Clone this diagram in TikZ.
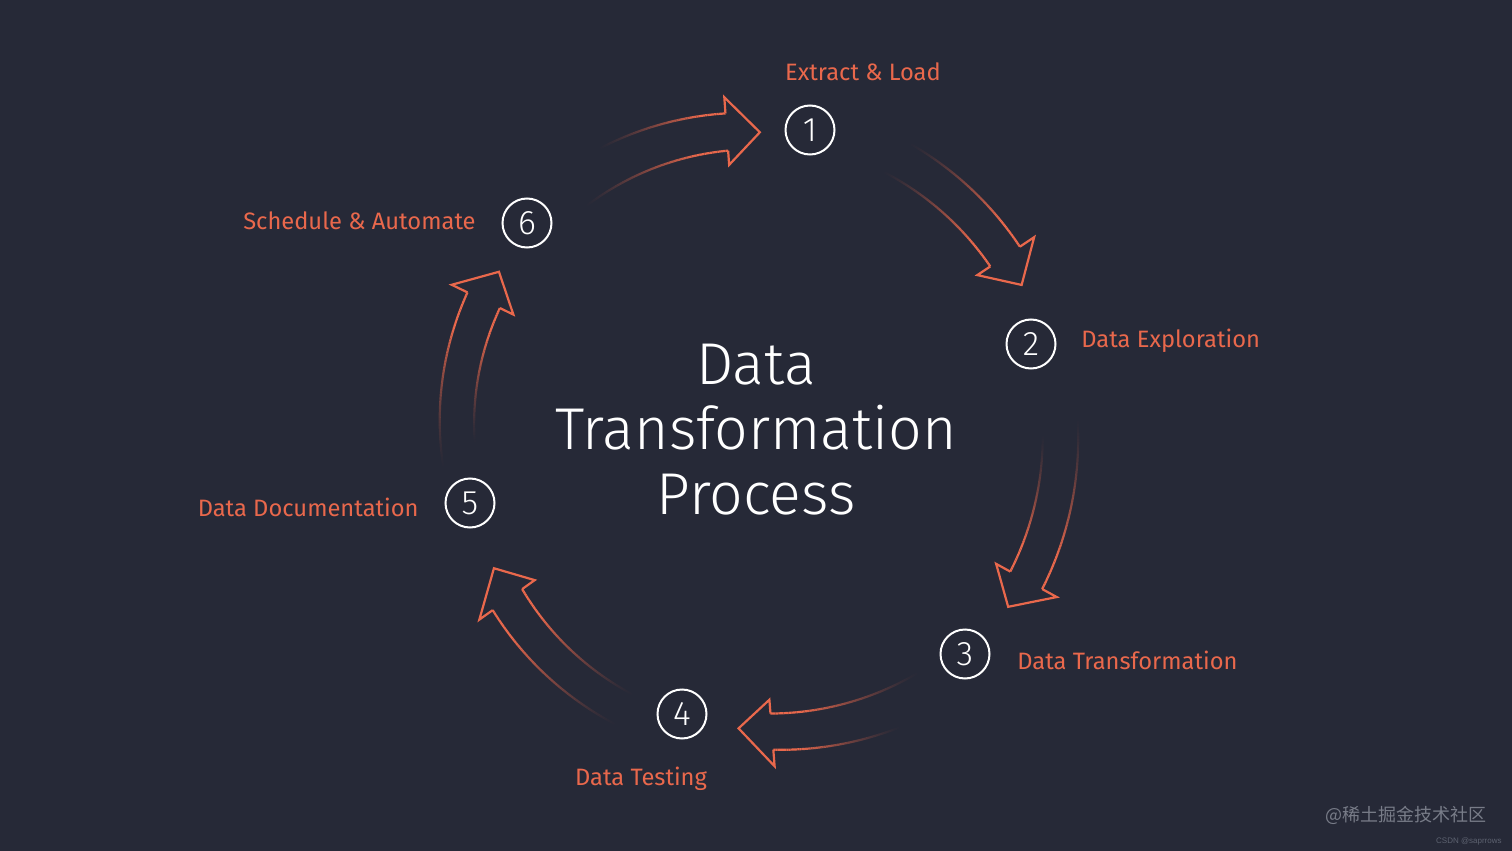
\documentclass[tikz,border=0pt]{standalone}
\usepackage{fontspec}
\setmainfont{Fira Sans}
\newfontfamily\lightfont{Fira Sans Light}
\newfontfamily\cjkfont{Noto Sans CJK SC}
\newfontfamily\wmfont{Liberation Sans}
\definecolor{bgcol}{RGB}{38,41,55}
\definecolor{accent}{RGB}{233,104,76}
\definecolor{wmgrey}{RGB}{120,124,136}
\tikzset{
  arrline/.style={draw=accent, line width=1.1pt},
  numcirc/.style={circle, draw=white, line width=1pt, minimum size=24.5pt, inner sep=0pt, text=white, font=\lightfont\fontsize{17}{17}\selectfont},
  steplabel/.style={text=accent, inner sep=0pt, font=\fontsize{11.85}{14}\selectfont},
}
% shaft line: #1 tail angle, #2 tail radius, #3 end angle, #4 end radius
\newcommand\shaftline[4]{%
  \foreach \i in {0,...,59}{%
    \pgfmathsetmacro\tA{\i/60}%
    \pgfmathsetmacro\tB{(\i+1)/60}%
    \pgfmathsetmacro\aA{#1+(#3-#1)*\tA}%
    \pgfmathsetmacro\aB{#1+(#3-#1)*\tB}%
    \pgfmathsetmacro\rA{#2+(#4-#2)*\tA}%
    \pgfmathsetmacro\rB{#2+(#4-#2)*\tB}%
    \pgfmathsetmacro\op{min(1,((\tA+\tB)/2/0.8))^1.5}%
    \draw[arrline, draw opacity=\op] ({748+\rA*cos(\aA)},{428-\rA*sin(\aA)}) -- ({748+\rB*cos(\aB)},{428-\rB*sin(\aB)});
  }%
}
% head: #1 base angle, #2 notch outer r, #3 notch inner r, #4 barb outer r, #5 barb inner r, #6 tip angle, #7 tip r
\newcommand\headshape[7]{%
  \draw[arrline, line join=miter]
    ({748+#2*cos(#1)},{428-#2*sin(#1)}) -- ({748+#4*cos(#1)},{428-#4*sin(#1)})
    -- ({748+#7*cos(#6)},{428-#7*sin(#6)})
    -- ({748+#5*cos(#1)},{428-#5*sin(#1)}) -- ({748+#3*cos(#1)},{428-#3*sin(#1)});
}
\begin{document}
\begin{tikzpicture}[x=0.5pt, y=-0.5pt]
\fill[bgcol] (0,0) rectangle (1512,851);
\useasboundingbox (0,0) rectangle (1512,851);

% arrow 6 -> 1
\shaftline{118.6}{316.5}{94.1}{315.4}
\shaftline{126.9}{274.6}{94.1}{278.1}
\headshape{94.1}{315.4}{278.1}{331.6}{263.8}{87.7}{296}
% arrow 1 -> 2
\shaftline{61}{327.3}{33.7}{326.8}
\shaftline{62.9}{289.8}{33.7}{291.2}
\headshape{33.7}{326.8}{291.2}{344}{275.6}{27.6}{308.8}
% arrow 2 -> 3
\shaftline{2.3}{329.6}{-28.7}{335.4}
\shaftline{-0.7}{294.7}{-28.7}{299}
\headshape{-28.7}{335.4}{299}{352}{282.9}{-34.5}{315.7}
% arrow 3 -> 4
\shaftline{-62.5}{336}{-85.5}{322.7}
\shaftline{-54.4}{298.4}{-85.5}{286.4}
\headshape{-85.5}{322.7}{286.4}{339.3}{272.6}{-91.8}{300.5}
% arrow 4 -> 5
\shaftline{-113.2}{325}{-144.5}{313.6}
\shaftline{-112.5}{290.8}{-144.5}{277.4}
\headshape{-144.5}{313.6}{277.4}{330}{262}{-151.1}{290.2}
% arrow 5 -> 6
\shaftline{188.2}{307.1}{154.2}{311.6}
\shaftline{183.9}{273.6}{154.2}{275.6}
\headshape{154.2}{311.6}{275.6}{329.1}{260.6}{147.9}{294}

% numbered circles
\node[numcirc] (n1) at (810,130) {1};
\node[numcirc] (n2) at (1031,344) {2};
\node[numcirc] (n3) at (965,654) {3};
\node[numcirc] (n4) at (682,714) {4};
\node[numcirc] (n5) at (470,503) {5};
\node[numcirc] (n6) at (527,223) {6};

% labels
\node[steplabel] (l1) at (863,72) {Extract \& Load};
\node[steplabel, anchor=west] (l2) at (1081,341) {Data Exploration};
\node[steplabel, anchor=west] (l3) at (1017,660) {Data Transformation};
\node[steplabel] (l4) at (641,779) {Data Testing};
\node[steplabel, anchor=east] (l5) at (419,507) {Data Documentation};
\node[steplabel, anchor=east] (l6) at (476,221) {Schedule \& Automate};

% centre title
\node[text=white, align=center, font=\lightfont\fontsize{29.5}{32.5}\selectfont] (title) at (756,430) {Data\\Transformation\\Process};

% watermark
\node[text=wmgrey, inner sep=0pt, anchor=east, font=\cjkfont\fontsize{9}{9}\selectfont] (wm1) at (1487,815) {@稀土掘金技术社区};
\node[text=wmgrey!120, inner sep=0pt, anchor=east, font=\wmfont\fontsize{4}{4}\selectfont] (wm2) at (1502,841) {CSDN @saprrows};
\end{tikzpicture}
\end{document}
